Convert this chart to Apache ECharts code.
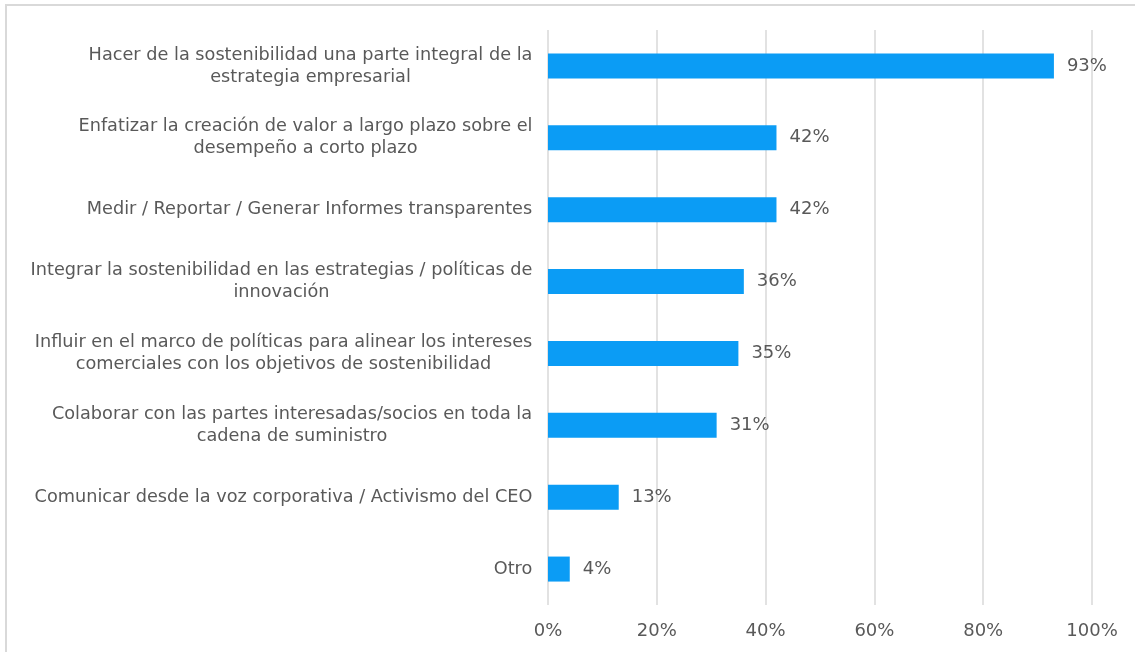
<!DOCTYPE html>
<html>
<head>
<meta charset="utf-8">
<script src="https://cdn.jsdelivr.net/npm/echarts@6/dist/echarts.min.js"></script>
<style>
  html, body { margin: 0; padding: 0; background: #fff; }
  #chart { width: 1135px; height: 652px; }
</style>
</head>
<body>
<div id="chart"></div>
<script>
  // categories (with the line breaks used in the picture)
  const categories = [
    'Hacer de la sostenibilidad una parte integral de la\nestrategia empresarial',
    'Enfatizar la creación de valor a largo plazo sobre el\ndesempeño a corto plazo',
    'Medir / Reportar / Generar Informes transparentes',
    'Integrar la sostenibilidad en las estrategias / políticas de\ninnovación',
    'Influir en el marco de políticas para alinear los intereses\ncomerciales con los objetivos de sostenibilidad',
    'Colaborar con las partes interesadas/socios en toda la\ncadena de suministro',
    'Comunicar desde la voz corporativa / Activismo del CEO',
    'Otro'
  ]
  const values = [93, 42, 42, 36, 35, 31, 13, 4]
  const xTicks = [0, 20, 40, 60, 80, 100]

  const fontFamily = '"DejaVu Sans", sans-serif'
  const textColor = '#595959'
  const catSize = 17.7

  // lines are centred inside each label block, so measure the widest line
  let ctx = document.createElement('canvas').getContext('2d')
  ctx.font = catSize + 'px ' + fontFamily
  let rich = {}
  categories.forEach(function (c, i) {
    let w = Math.max.apply(null, c.split('\n').map(function (l) { return ctx.measureText(l).width }))
    rich['r' + i] = {
      width: Math.ceil(w) + 1,
      align: 'center',
      fontSize: catSize,
      lineHeight: 22,
      color: textColor,
      fontFamily: fontFamily
    }
  })

  let myChart = echarts.init(document.getElementById('chart'))
  let option = {
    backgroundColor: '#ffffff',
    animation: false,
    graphic: [
      {
        type: 'rect',
        shape: { x: 6, y: 5, width: 1200, height: 700 },
        style: { fill: 'none', stroke: '#d9d9d9', lineWidth: 2 },
        silent: true
      }
    ],
    grid: {
      left: 548,
      right: 43,
      top: 30,
      bottom: 47
    },
    xAxis: {
      type: 'value',
      min: 0,
      max: 100,
      interval: 20,
      axisLine: { show: false },
      axisTick: { show: false },
      splitLine: { lineStyle: { color: '#d9d9d9', width: 1.5 } },
      axisLabel: {
        margin: 17,
        fontSize: 18,
        color: textColor,
        fontFamily: fontFamily,
        formatter: function (v) { return xTicks.indexOf(v) >= 0 ? v + '%' : '' }
      }
    },
    yAxis: {
      type: 'category',
      inverse: true,
      data: categories,
      axisLine: { show: false },
      axisTick: { show: false },
      axisLabel: {
        margin: 15,
        formatter: function (v, i) {
          return v.split('\n').map(function (l) { return '{r' + i + '|' + l + '}' }).join('\n')
        },
        rich: rich
      }
    },
    series: [
      {
        type: 'bar',
        data: values,
        barWidth: 25,
        itemStyle: { color: '#0b9cf5' },
        label: {
          show: true,
          position: 'right',
          distance: 13,
          formatter: '{c}%',
          fontSize: 18,
          color: textColor,
          fontFamily: fontFamily
        }
      }
    ]
  }
  myChart.setOption(option)
</script>
</body>
</html>
